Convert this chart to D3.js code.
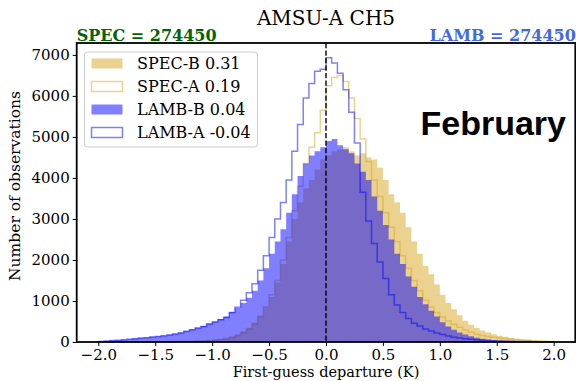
<!DOCTYPE html>
<html><head><meta charset="utf-8">
<script src="https://cdn.jsdelivr.net/npm/d3@7"></script>
<style>body{margin:0;background:#fff}svg{display:block}</style>
</head><body><svg id="c" width="576" height="381"></svg>
<script>
// histogram bins: left edge of first bin and bin width (K)
const binStart = -2.0, binWidth = 0.05;
const specB = [2,2,3,3,4,4,5,5,6,7,8,9,11,13,16,20,25,30,38,48,60,80,105,140,190,260,350,470,640,850,1100,1450,1900,2450,3000,3400,3750,3950,4200,4450,4550,4650,4700,4750,4650,4550,4600,4500,4450,4250,3950,3600,3400,3150,2800,2450,2150,1850,1650,1400,1150,950,800,650,520,420,340,280,230,190,155,125,100,80,62,48,38,30,22,16];
const specA = [1,1,1,2,2,2,3,3,4,4,5,6,7,8,10,12,15,19,24,30,40,55,75,105,150,220,310,440,620,860,1150,1500,2000,2550,3200,3800,4350,4750,5100,5650,6250,6450,6500,6350,5950,5450,4950,4400,3950,3550,3150,2800,2450,2100,1800,1500,1250,1020,850,720,610,510,430,360,290,240,190,160,135,115,100,85,72,60,50,40,32,25,18,12];
const lambB = [15,25,35,45,55,70,85,100,110,125,140,155,175,200,230,270,310,350,390,450,500,560,620,730,830,950,1080,1250,1500,1800,2150,2450,2750,3150,3600,4050,4350,4550,4650,4750,4900,4950,4800,4700,4600,4350,4150,3950,3550,3200,2850,2500,2150,1900,1600,1350,1100,920,760,620,480,380,300,230,180,140,105,80,60,45,35,27,20,15,12,9,7,5,4,3];
const lambA = [15,25,35,45,55,65,80,95,105,120,135,150,170,195,220,260,300,340,380,440,490,540,600,720,850,1020,1200,1420,1750,2100,2550,3000,3400,3950,4650,5300,5950,6300,6600,6650,6930,6800,6550,6150,5600,4850,3650,2950,2400,1950,1550,1150,900,720,570,460,390,320,270,220,180,145,115,95,80,65,55,45,38,32,27,22,18,15,12,10,8,6,5,4];
const legendLabels = ["SPEC-B 0.31","SPEC-A 0.19","LAMB-B 0.04","LAMB-A -0.04"];
const xTicks = [-2,-1.5,-1,-0.5,0,0.5,1,1.5,2];
const yTicks = [0,1000,2000,3000,4000,5000,6000,7000];
const titleText = "AMSU-A CH5";
const leftNote = "SPEC = 274450", rightNote = "LAMB = 274450";
const monthText = "February";
const xLabel = "First-guess departure (K)", yLabel = "Number of observations";

const W = 576, H = 381;
const m = {l:76.7, r:575.3, t:43, b:342};
const svg = d3.select("#c");
const x = d3.scaleLinear().domain([-2.19, 2.19]).range([m.l, m.r]);
const y = d3.scaleLinear().domain([0, 7290]).range([m.b, m.t]);
const serif = "'DejaVu Serif', serif";

const gold = "#daa520", blue = "#0000ff";

function stepPts(vals){
  const pts = [];
  vals.forEach((v,i)=>{
    const x0 = binStart + i*binWidth, x1 = x0 + binWidth;
    pts.push([x0, v]); pts.push([x1, v]);
  });
  return pts;
}
const areaGen = d3.area().x(d=>x(d[0])).y0(y(0)).y1(d=>y(d[1]));
function outlinePts(vals){
  const p = stepPts(vals);
  return [[p[0][0],0], ...p, [p[p.length-1][0],0]];
}
const lineGen = d3.line().x(d=>x(d[0])).y(d=>y(d[1]));

const plot = svg.append("g");
plot.append("path").attr("d", areaGen(stepPts(specB))).attr("fill", gold).attr("fill-opacity",0.5);
plot.append("path").attr("d", lineGen(outlinePts(specA))).attr("fill","none").attr("stroke", gold).attr("stroke-opacity",0.5).attr("stroke-width",1.5);
plot.append("path").attr("d", areaGen(stepPts(lambB))).attr("fill", blue).attr("fill-opacity",0.5);
plot.append("path").attr("d", lineGen(outlinePts(lambA))).attr("fill","none").attr("stroke", blue).attr("stroke-opacity",0.5).attr("stroke-width",1.5);

// zero line
svg.append("line").attr("x1",x(0)).attr("x2",x(0)).attr("y1",m.t).attr("y2",m.b)
  .attr("stroke","#000").attr("stroke-width",1.4).attr("stroke-dasharray","5.2,2.3");

// axes
const fmt = d3.format(".1f");
const xa = svg.append("g").attr("transform",`translate(0,${m.b})`)
  .call(d3.axisBottom(x).tickValues(xTicks).tickFormat(fmt).tickSizeOuter(0).tickSize(4).tickPadding(3));
const ya = svg.append("g").attr("transform",`translate(${m.l},0)`)
  .call(d3.axisLeft(y).tickValues(yTicks).tickFormat(d3.format("d")).tickSizeOuter(0).tickSize(4).tickPadding(3));
[xa,ya].forEach(g=>{
  g.select(".domain").remove();
  g.selectAll("text").attr("font-family",serif).attr("font-size",15).attr("fill","#000");
  g.selectAll("line").attr("stroke","#000").attr("stroke-width",1);
});
// spines
svg.append("rect").attr("x",m.l).attr("y",m.t).attr("width",m.r-m.l).attr("height",m.b-m.t)
  .attr("fill","none").attr("stroke","#000").attr("stroke-width",1.8);

// texts
svg.append("text").attr("x",(m.l+m.r)/2).attr("y",25).attr("text-anchor","middle")
  .attr("font-family",serif).attr("font-size",20).text(titleText);
svg.append("text").attr("x",m.l).attr("y",41).attr("font-family",serif).attr("font-weight","bold")
  .attr("font-size",16).attr("fill","#006400").text(leftNote);
svg.append("text").attr("x",m.r+0.5).attr("y",41).attr("text-anchor","end").attr("font-family",serif).attr("font-weight","bold")
  .attr("font-size",16).attr("fill","#4169e1").text(rightNote);
svg.append("text").attr("x",(m.l+m.r)/2).attr("y",377).attr("text-anchor","middle")
  .attr("font-family",serif).attr("font-size",14.5).text(xLabel);
svg.append("text").attr("transform",`translate(20,186) rotate(-90)`).attr("text-anchor","middle")
  .attr("font-family",serif).attr("font-size",15.5).text(yLabel);
svg.append("text").attr("x",566).attr("y",135).attr("text-anchor","end")
  .attr("font-family","'Liberation Sans', Arial, sans-serif").attr("font-weight","bold").attr("font-size",34).text(monthText);

// legend
const lg = svg.append("g");
lg.append("rect").attr("x",84.5).attr("y",52).attr("width",173).attr("height",95).attr("rx",3)
  .attr("fill","#fff").attr("fill-opacity",0.8).attr("stroke","#cccccc").attr("stroke-width",1);
const styles = [
  {fill:gold, fo:0.5, stroke:"none"},
  {fill:"none", fo:0, stroke:gold},
  {fill:blue, fo:0.5, stroke:"none"},
  {fill:"none", fo:0, stroke:blue}
];
legendLabels.forEach((lab,i)=>{
  const cy = 63.5 + i*23;
  const s = styles[i];
  lg.append("rect").attr("x",91.5).attr("y",cy-5).attr("width",31).attr("height",10)
    .attr("fill",s.fill).attr("fill-opacity",s.fo).attr("stroke",s.stroke).attr("stroke-opacity",0.5).attr("stroke-width",1.5);
  lg.append("text").attr("x",137).attr("y",cy+5.5).attr("font-family",serif).attr("font-size",16).text(lab);
});
</script>
</body></html>
